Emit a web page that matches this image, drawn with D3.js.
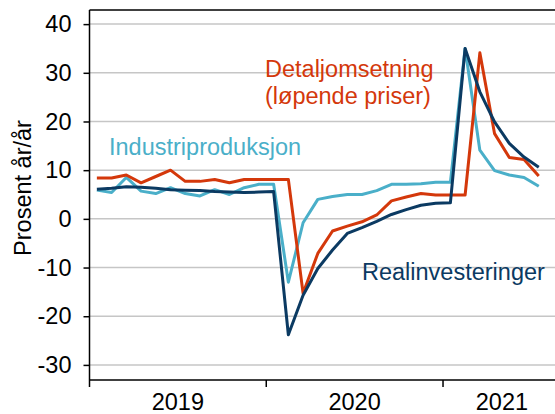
<!DOCTYPE html>
<html>
<head>
<meta charset="utf-8">
<script src="https://cdn.jsdelivr.net/npm/d3@7"></script>
<style>
  body { margin: 0; background: #fff; }
  svg { font-family: "Liberation Sans", Arial, sans-serif; }
</style>
</head>
<body>
<svg id="chart" width="555" height="414"></svg>
<script>
// Months Jan 2019 - Aug 2021 (axis runs one month past the last observation)
let months = [];
for (let yr = 2019; yr <= 2021; yr++) {
	for (let m = 1; m <= 12; m++) {
		if (yr === 2021 && m > 8) break;
		months.push(yr + "-" + String(m).padStart(2, "0"));
	}
}

let years = ["2019", "2020", "2021"];
let yTicks = [-30, -20, -10, 0, 10, 20, 30, 40];

// Detaljomsetning (løpende priser)
let detalj = [8.4, 8.4, 9.0, 7.4, 8.7, 10.0, 7.7, 7.7, 8.1, 7.4, 8.1, 8.1,
	8.1, 8.1, -15.3, -7.1, -2.5, -1.5, -0.6, 0.8, 3.7, 4.5, 5.2, 4.9,
	4.9, 4.9, 34.1, 17.5, 12.6, 12.2, 8.8];

// Industriproduksjon
let industri = [5.9, 5.4, 8.5, 5.7, 5.2, 6.4, 5.2, 4.7, 6.0, 5.0, 6.4, 7.1,
	7.1, -13.0, -0.8, 4.0, 4.6, 5.0, 5.0, 5.8, 7.1, 7.1, 7.2, 7.5,
	7.5, 35.0, 14.1, 9.9, 9.0, 8.5, 6.7];

// Realinvesteringer
let realinv = [6.1, 6.3, 6.6, 6.5, 6.3, 6.0, 5.9, 5.8, 5.6, 5.5, 5.4, 5.5,
	5.6, -23.8, -15.7, -10.2, -6.4, -3.0, -1.8, -0.5, 0.9, 1.9, 2.8, 3.2,
	3.3, 35.0, 26.1, 19.9, 15.5, 12.7, 10.6];

let series = [
	{ name: "Industriproduksjon", values: industri, color: "#4aafc9" },
	{ name: "Detaljomsetning", values: detalj, color: "#d4380b" },
	{ name: "Realinvesteringer", values: realinv, color: "#0b3a62" }
];

let width = 555;
let plotLeft = 89.5, plotTop = 10, plotBottom = 380;
let step = 14.73;
let fontSize = "23.5px";

let svg = d3.select("#chart");

let x = d3.scaleBand()
	.domain(months)
	.range([plotLeft, plotLeft + months.length * step]);

let y = d3.scaleLinear()
	.domain([-33.1, 42.9])
	.range([plotBottom, plotTop]);

// Gridlines
svg.append("g")
	.selectAll("line")
	.data(yTicks)
	.enter().append("line")
	.attr("x1", plotLeft)
	.attr("x2", width)
	.attr("y1", d => y(d))
	.attr("y2", d => y(d))
	.attr("stroke", "#c6c6c6")
	.attr("stroke-width", 1.5);

// Top border
svg.append("line")
	.attr("x1", plotLeft).attr("x2", width)
	.attr("y1", plotTop).attr("y2", plotTop)
	.attr("stroke", "#000").attr("stroke-width", 1.5);

// Y axis
let yAxis = d3.axisLeft(y)
	.tickValues(yTicks)
	.tickSize(6)
	.tickPadding(12)
	.tickFormat(d => d);

let gy = svg.append("g")
	.attr("transform", "translate(" + plotLeft + ",0)")
	.call(yAxis);
gy.select(".domain").attr("d", "M0," + plotTop + "V" + plotBottom).attr("stroke-width", 1.5);
gy.selectAll(".tick line").attr("stroke-width", 1.5);
gy.selectAll("text").style("font-size", fontSize).attr("fill", "#000").attr("font-family", "Liberation Sans, Arial, sans-serif");

// X axis: year ticks at January boundaries
let gx = svg.append("g");
gx.append("line")
	.attr("x1", plotLeft).attr("x2", width)
	.attr("y1", plotBottom).attr("y2", plotBottom)
	.attr("stroke", "#000").attr("stroke-width", 1.5);
gx.selectAll(".ytick")
	.data(years)
	.enter().append("line")
	.attr("x1", d => x(d + "-01"))
	.attr("x2", d => x(d + "-01"))
	.attr("y1", plotBottom)
	.attr("y2", plotBottom + 7)
	.attr("stroke", "#000").attr("stroke-width", 1.5);
gx.selectAll(".ylabel")
	.data(years)
	.enter().append("text")
	.attr("x", d => {
		let ms = months.filter(m => m.startsWith(d));
		return (x(ms[0]) + x(ms[ms.length - 1]) + x.bandwidth()) / 2;
	})
	.attr("y", 410)
	.attr("text-anchor", "middle")
	.style("font-size", fontSize)
	.text(d => d);

// Y title
svg.append("text")
	.attr("transform", "translate(31,188) rotate(-90)")
	.attr("text-anchor", "middle")
	.style("font-size", fontSize)
	.text("Prosent år/år");

// Lines
let line = d3.line()
	.x((d, i) => x(months[i]) + x.bandwidth() / 2)
	.y(d => y(d));

svg.selectAll(".series")
	.data(series)
	.enter().append("path")
	.attr("class", "series")
	.attr("d", d => line(d.values))
	.attr("fill", "none")
	.attr("stroke", d => d.color)
	.attr("stroke-width", 3)
	.attr("stroke-linejoin", "round");

// Series labels
svg.append("text")
	.attr("x", 265).attr("y", 77)
	.attr("fill", "#d4380b")
	.style("font-size", fontSize)
	.text("Detaljomsetning");
svg.append("text")
	.attr("x", 265).attr("y", 104)
	.attr("fill", "#d4380b")
	.style("font-size", fontSize)
	.text("(løpende priser)");
svg.append("text")
	.attr("x", 109).attr("y", 155)
	.attr("fill", "#4aafc9")
	.style("font-size", fontSize)
	.text("Industriproduksjon");
svg.append("text")
	.attr("x", 362).attr("y", 280)
	.attr("fill", "#0b3a62")
	.style("font-size", fontSize)
	.text("Realinvesteringer");
</script>
</body>
</html>
